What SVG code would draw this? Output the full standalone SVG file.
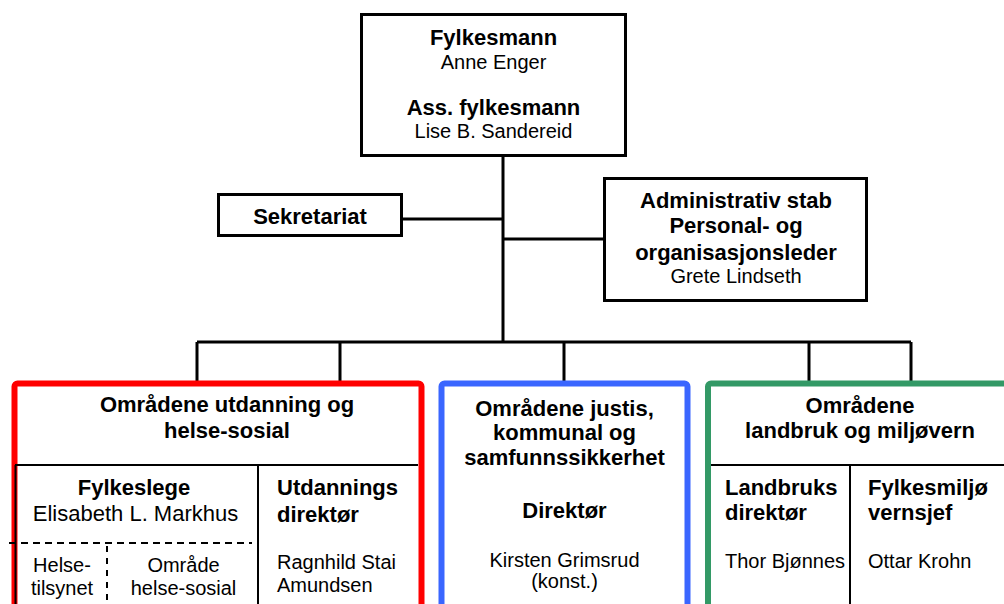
<svg xmlns="http://www.w3.org/2000/svg" width="1004" height="604" viewBox="0 0 1004 604">
<style>
text{font-family:"Liberation Sans",Arial,Helvetica,sans-serif;fill:#000}
.b{font-weight:bold;font-size:22px}
.r{font-size:20px}
.c{text-anchor:middle}
.box{fill:#fff;stroke:#000;stroke-width:3}
.ln{stroke:#000;stroke-width:3;fill:none}
.thin{stroke:#000;stroke-width:2;fill:none}
.dash{stroke:#000;stroke-width:2;fill:none;stroke-dasharray:7 5}
</style>
<rect width="1004" height="604" fill="#fff"/>
<g id="connectors">
<path class="ln" d="M503 157V342M402 219H503M503 239H603M197 342H911M197 342V382M340 342V382M564 342V382M809 342V382M911 342V382"/>
</g>
<g id="fylkesmann">
<rect class="box" x="361.5" y="14.5" width="264" height="141"/>
<text class="b c" x="493.5" y="45">Fylkesmann</text>
<text class="r c" x="493.5" y="69">Anne Enger</text>
<text class="b c" x="493.5" y="115">Ass. fylkesmann</text>
<text class="r c" x="493.5" y="138">Lise B. Sandereid</text>
</g>
<g id="sekretariat">
<rect class="box" x="218.5" y="194.5" width="183" height="41"/>
<text class="b c" x="310" y="224">Sekretariat</text>
</g>
<g id="adminstab">
<rect class="box" x="604.5" y="178.5" width="262" height="122"/>
<text class="b c" x="736" y="208">Administrativ stab</text>
<text class="b c" x="736" y="233">Personal- og</text>
<text class="b c" x="736" y="260">organisasjonsleder</text>
<text class="r c" x="736" y="283">Grete Lindseth</text>
</g>
<g id="utdanning-helse">
<rect x="14.5" y="383.5" width="407" height="240" rx="3" fill="#fff" stroke="#ff0000" stroke-width="6"/>
<path class="thin" d="M15 465H418M15.5 465V604M258 465V604"/>
<path class="dash" d="M9 543H252"/>
<path class="dash" d="M107 546V604" style="stroke-dasharray:6 6"/>
<text class="b c" x="227" y="412">Områdene utdanning og</text>
<text class="b c" x="227" y="438">helse-sosial</text>
<text class="b c" x="134" y="495">Fylkeslege</text>
<text class="r c" x="135.5" y="521" style="font-size:22px">Elisabeth L. Markhus</text>
<text class="r c" x="62" y="572">Helse-</text>
<text class="r c" x="62" y="595">tilsynet</text>
<text class="r c" x="183.5" y="572">Område</text>
<text class="r c" x="183.5" y="595">helse-sosial</text>
<text class="b" x="277" y="495">Utdannings</text>
<text class="b" x="277" y="522">direktør</text>
<text class="r" x="277" y="569">Ragnhild Stai</text>
<text class="r" x="277" y="592">Amundsen</text>
</g>
<g id="justis-kommunal">
<rect x="441.5" y="383.5" width="246" height="240" rx="3" fill="#fff" stroke="#3a66ff" stroke-width="6"/>
<text class="b c" x="564.5" y="416">Områdene justis,</text>
<text class="b c" x="564.5" y="440">kommunal og</text>
<text class="b c" x="564.5" y="465">samfunnssikkerhet</text>
<text class="b c" x="564.5" y="518">Direktør</text>
<text class="r c" x="564.5" y="567">Kirsten Grimsrud</text>
<text class="r c" x="564.5" y="588">(konst.)</text>
</g>
<g id="landbruk-miljo">
<rect x="708" y="383.5" width="310" height="240" rx="3" fill="#fff" stroke="#339966" stroke-width="6"/>
<path class="thin" d="M711 465H1004M850 465V604"/>
<text class="b c" x="860" y="413">Områdene</text>
<text class="b c" x="860" y="438">landbruk og miljøvern</text>
<text class="b" x="725" y="495">Landbruks</text>
<text class="b" x="725" y="520">direktør</text>
<text class="r" x="725" y="568">Thor Bjønnes</text>
<text class="b" x="868" y="495">Fylkesmiljø</text>
<text class="b" x="868" y="520">vernsjef</text>
<text class="r" x="868" y="568">Ottar Krohn</text>
</g>
</svg>
